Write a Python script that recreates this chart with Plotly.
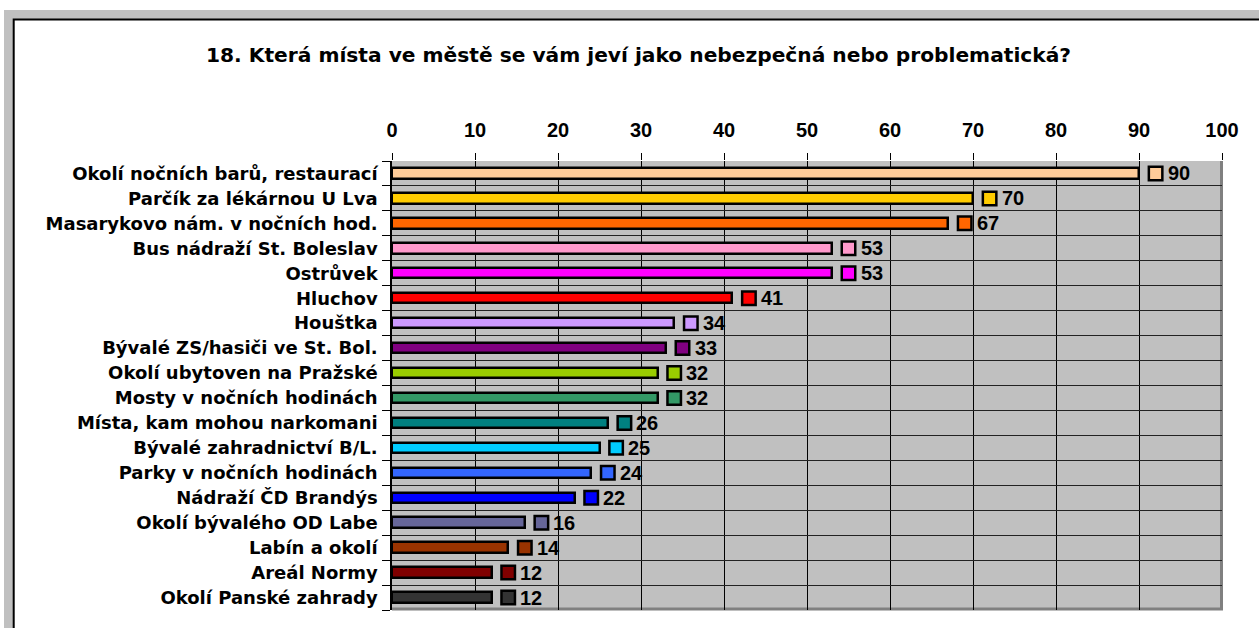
import plotly.graph_objects as go

# ---------------- data ----------------
categories = [
    "Okolí nočních barů, restaurací",
    "Parčík za lékárnou U Lva",
    "Masarykovo nám. v nočních hod.",
    "Bus nádraží St. Boleslav",
    "Ostrůvek",
    "Hluchov",
    "Houštka",
    "Bývalé ZS/hasiči ve St. Bol.",
    "Okolí ubytoven na Pražské",
    "Mosty v nočních hodinách",
    "Místa, kam mohou narkomani",
    "Bývalé zahradnictví B/L.",
    "Parky v nočních hodinách",
    "Nádraží ČD Brandýs",
    "Okolí bývalého OD Labe",
    "Labín a okolí",
    "Areál Normy",
    "Okolí Panské zahrady",
]
values = [90, 70, 67, 53, 53, 41, 34, 33, 32, 32, 26, 25, 24, 22, 16, 14, 12, 12]
colors = [
    "#FFCC99", "#FFCC00", "#FF6600", "#FF99CC", "#FF00FF", "#FF0000",
    "#CC99FF", "#800080", "#99CC00", "#339966", "#008080", "#00CCFF",
    "#3366FF", "#0000FF", "#666699", "#993300", "#800000", "#333333",
]
x_ticks = [0, 10, 20, 30, 40, 50, 60, 70, 80, 90, 100]
title_text = "18. Která místa ve městě se vám jeví jako nebezpečná nebo problematická?"

# ---------------- layout geometry ----------------
W, H = 1259, 628
L, R, T, B = 392, 37, 161, 18
pw = W - L - R
ph = H - T - B


def fx(px):
    return (px - L) / pw


def fy(py):
    return (H - B - py) / ph


LABEL_FONT = "DejaVu Sans, Verdana, sans-serif"
NUM_FONT = "Liberation Sans, Arial, sans-serif"

fig = go.Figure()

fig.add_trace(go.Bar(
    y=categories, x=values, orientation="h",
    width=0.42,
    marker=dict(color=colors, line=dict(color="black", width=2.5)),
    hoverinfo="skip",
))

label_offset = 2  # data-units gap between bar end and the label key
key_x = [v + label_offset for v in values]
fig.add_trace(go.Scatter(
    y=categories, x=key_x,
    mode="markers",
    marker=dict(symbol="square", size=13.5, color=colors,
                line=dict(color="black", width=2.5)),
    cliponaxis=False,
    hoverinfo="skip",
))

annotations = [dict(
    text=title_text, xref="paper", yref="paper",
    x=fx(638), y=fy(55), xanchor="center", yanchor="middle",
    showarrow=False,
    font=dict(family=LABEL_FONT, size=20.2, color="black", weight="bold"),
)]
for cat, kx, v in zip(categories, key_x, values):
    annotations.append(dict(
        x=kx, y=cat, xref="x", yref="y", text=str(v),
        showarrow=False, xanchor="left", yanchor="middle",
        xshift=11, borderpad=0,
        font=dict(family=NUM_FONT, size=20, color="black", weight="bold"),
    ))

shapes = [
    # outer gray frame
    dict(type="rect", xref="paper", yref="paper", layer="below",
         x0=fx(4), x1=fx(1300), y0=fy(10), y1=fy(700),
         fillcolor="#C0C0C0", line=dict(width=0)),
    # white chart area with black border
    dict(type="rect", xref="paper", yref="paper", layer="below",
         x0=fx(13.7), x1=fx(1300), y0=fy(19.5), y1=fy(700),
         fillcolor="white", line=dict(color="black", width=2)),
    # plot area shadow/border
    dict(type="rect", xref="paper", yref="paper", layer="below",
         x0=fx(392), x1=fx(1223), y0=fy(161), y1=fy(610.5),
         fillcolor="#808080", line=dict(width=0)),
    # plot area
    dict(type="rect", xref="paper", yref="paper", layer="below",
         x0=fx(392), x1=fx(1220), y0=fy(161), y1=fy(607.5),
         fillcolor="#C0C0C0", line=dict(width=0)),
]

n = len(categories)
fig.update_layout(
    width=W, height=H,
    margin=dict(l=L, r=R, t=T, b=B, pad=0),
    paper_bgcolor="white",
    plot_bgcolor="rgba(0,0,0,0)",
    showlegend=False,
    bargap=0,
    shapes=shapes,
    annotations=annotations,
    font=dict(family=LABEL_FONT, size=18, color="black"),
    xaxis=dict(
        side="top", range=[0, 100], tickvals=x_ticks,
        ticktext=[str(t) for t in x_ticks],
        showgrid=True, gridcolor="black", gridwidth=1,
        ticks="outside", ticklen=7, tickcolor="black", tickwidth=1,
        ticklabelstandoff=8,
        tickfont=dict(family=NUM_FONT, size=20, color="black", weight="bold"),
        showline=False, zeroline=False, fixedrange=True,
    ),
    yaxis=dict(
        type="category",
        range=[n - 0.5, -0.5],
        tickmode="array", tickvals=categories, ticktext=categories,
        tickson="boundaries",
        showgrid=True, gridcolor="#222222", gridwidth=1,
        ticks="outside", ticklen=8, tickcolor="black", tickwidth=1,
        ticklabelstandoff=9,
        showline=True, linecolor="black", linewidth=1.5,
        tickfont=dict(family=LABEL_FONT, size=18, color="black", weight="bold"),
        zeroline=False, fixedrange=True,
    ),
)

fig.write_html("out.html", config={"displayModeBar": False},
               post_script="document.body.style.margin='0';")
